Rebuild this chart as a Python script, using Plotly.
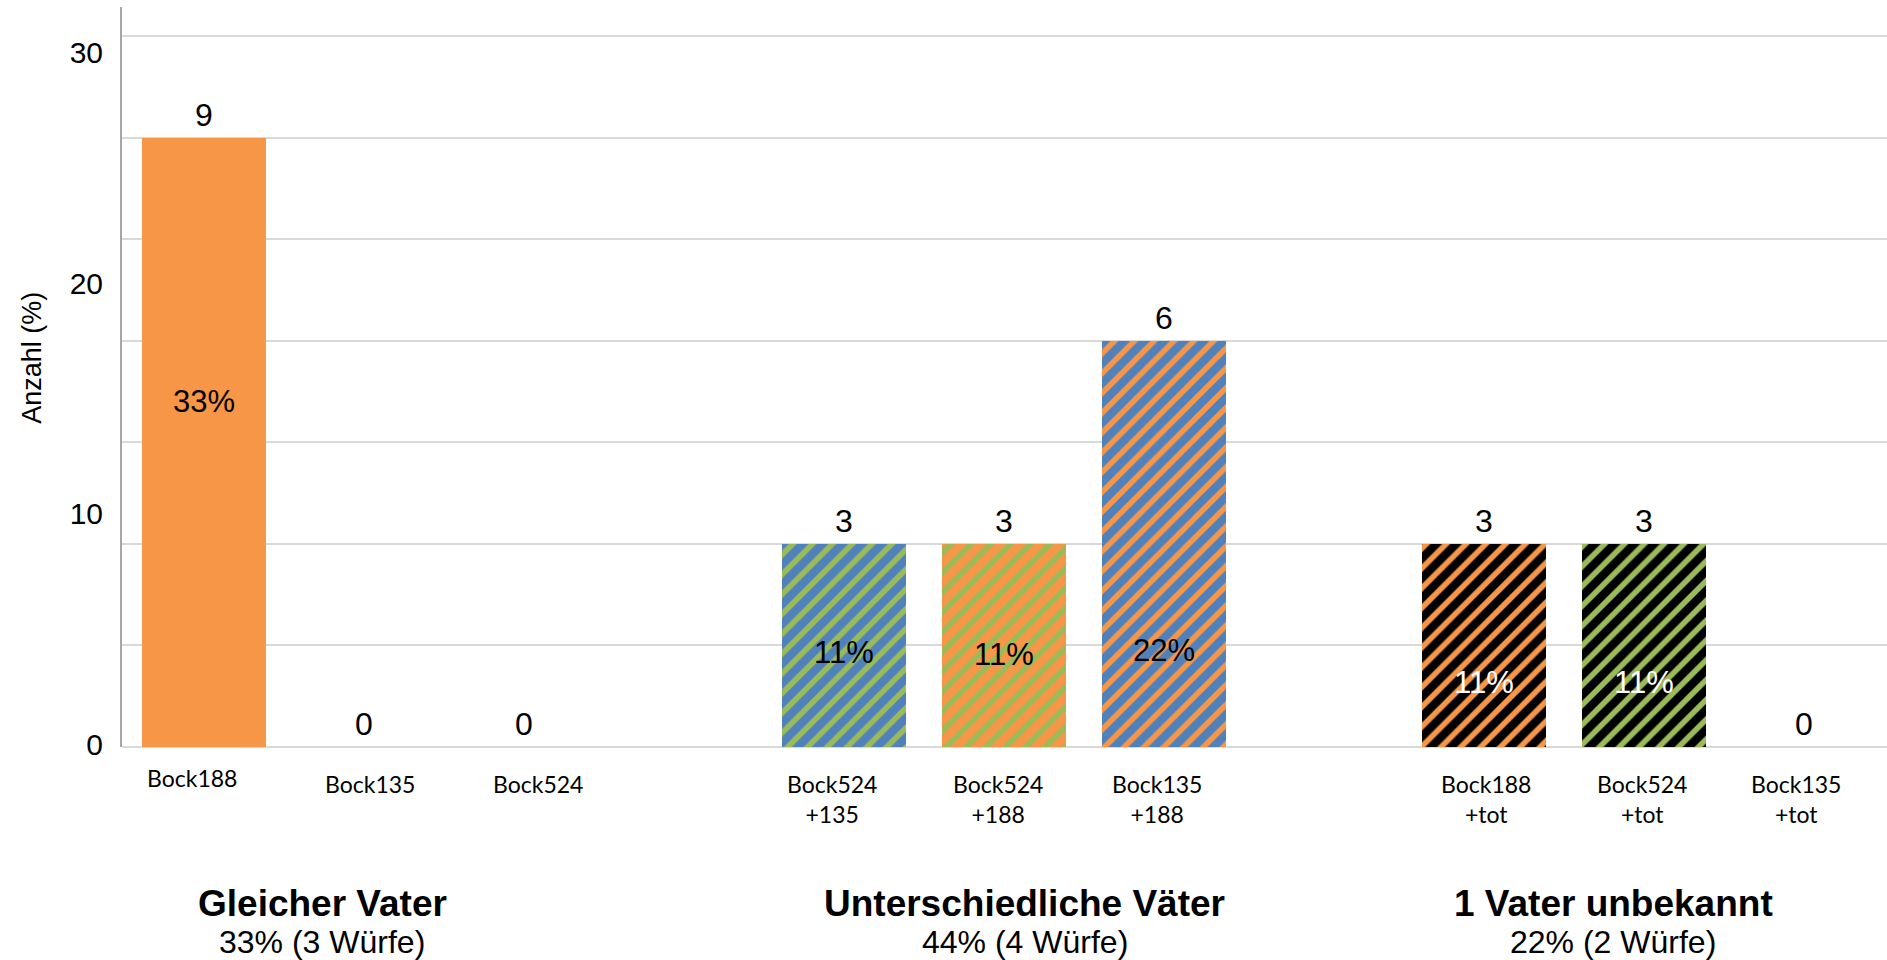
import plotly.graph_objects as go

# ---- data ----
categories = ["Bock188", "Bock135", "Bock524",
              "Bock524<br>+135", "Bock524<br>+188", "Bock135<br>+188",
              "Bock188<br>+tot", "Bock524<br>+tot", "Bock135<br>+tot"]
group_of = [0, 0, 0, 1, 1, 1, 2, 2, 2]
counts = [9, 0, 0, 3, 3, 6, 3, 3, 0]
percent_labels = ["33%", "", "", "11%", "11%", "22%", "11%", "11%", ""]

group_titles = ["Gleicher Vater", "Unterschiedliche Väter", "1 Vater unbekannt"]
group_subtitles = ["33% (3 Würfe)", "44% (4 Würfe)", "22% (2 Würfe)"]

y_tick_vals = [0, 10, 20, 30]

# ---- styles ----
ORANGE, BLUE, GREEN, BLACK = "#F79646", "#4F81BD", "#9BBB59", "#000000"
bg_colors = [ORANGE, BLUE, GREEN, BLUE, ORANGE, BLUE, BLACK, BLACK, BLACK]
stripe_colors = [ORANGE, BLUE, GREEN, GREEN, GREEN, ORANGE, ORANGE, GREEN, BLUE]
pattern_shapes = ["", "", "", "/", "/", "/", "/", "/", "/"]
inside_label_y = [5.11, None, None, 1.40, 1.36, 1.43, 0.96, 0.96, None]
inside_label_color = ["black", None, None, "black", "black", "black", "white", "white", None]
group_label_x = [0.74, 5.13, 8.81]
# small horizontal / vertical offsets of the category labels (as in the original)
label_dx = [-0.07, 0.04, 0.09, -0.07, -0.035, -0.04, 0.015, -0.01, -0.05]
label_top_px = [762, 768, 768, 768, 768, 768, 768, 768, 768]

# slot positions: 3 bars per group with one empty slot between groups
slots = [group_of[i] * 4 + (i % 3) for i in range(len(categories))]

fig = go.Figure()
for i, s in enumerate(slots):
    marker = dict(color=bg_colors[i], line=dict(width=0))
    if pattern_shapes[i]:
        marker["pattern"] = dict(shape=pattern_shapes[i], fgcolor=stripe_colors[i],
                                 bgcolor=bg_colors[i], size=14, solidity=0.4,
                                 fgopacity=1, fillmode="replace")
    fig.add_trace(go.Bar(x=[s], y=[counts[i]], width=0.775, marker=marker,
                         hoverinfo="skip", showlegend=False, yaxis="y"))
# invisible trace for percent axis
fig.add_trace(go.Scatter(x=[slots[0]], y=[0], yaxis="y2", mode="markers",
                         marker=dict(opacity=0), showlegend=False,
                         hoverinfo="skip"))

PLOT_H = 960 - 7 - 213


def paper_y(px_from_top):
    return (960 - 213 - px_from_top) / PLOT_H


ann = []
for i, s in enumerate(slots):
    ann.append(dict(x=s, y=counts[i], xref="x", yref="y", text=str(counts[i]),
                    showarrow=False, yanchor="middle", yshift=23,
                    font=dict(family="Liberation Sans, Arial", size=32, color="black")))
    if percent_labels[i]:
        ann.append(dict(x=s, y=inside_label_y[i], xref="x", yref="y",
                        text=percent_labels[i], showarrow=False, yanchor="middle",
                        font=dict(family="Liberation Sans, Arial", size=31,
                                  color=inside_label_color[i])))
    ann.append(dict(x=s + label_dx[i], y=paper_y(label_top_px[i]), xref="x",
                    yref="paper", text=categories[i], showarrow=False,
                    xanchor="center", yanchor="top", align="center",
                    font=dict(family="Lato", size=23, color="black")))
for g in range(3):
    ann.append(dict(x=group_label_x[g], y=paper_y(903), xref="x", yref="paper",
                    text="<b>" + group_titles[g] + "</b>", showarrow=False,
                    xanchor="center", yanchor="middle",
                    font=dict(family="Liberation Sans, Arial", size=37, color="black")))
    ann.append(dict(x=group_label_x[g], y=paper_y(942), xref="x", yref="paper",
                    text=group_subtitles[g], showarrow=False,
                    xanchor="center", yanchor="middle",
                    font=dict(family="Liberation Sans, Arial", size=32, color="black")))
ann.append(dict(x=-0.051, y=5.75, xref="paper", yref="y", text="Anzahl (%)",
                textangle=-90, showarrow=False, xanchor="center", yanchor="middle",
                font=dict(family="Liberation Sans, Arial", size=27, color="black")))

fig.update_layout(
    width=1887, height=960,
    margin=dict(l=122, r=0, t=7, b=213, autoexpand=False),
    paper_bgcolor="white", plot_bgcolor="white",
    bargap=0, barmode="overlay",
    xaxis=dict(range=[-0.51, 10.52], showticklabels=False, showgrid=False,
               zeroline=False, showline=False, ticks="", automargin=False),
    yaxis=dict(range=[0, 10.93], dtick=1.5, tick0=0, showgrid=True,
               gridcolor="#d9d9d9", gridwidth=2, zeroline=True,
               zerolinecolor="#d9d9d9", zerolinewidth=2,
               showticklabels=False, ticks="", automargin=False,
               showline=True, linecolor="#a6a6a6", linewidth=2),
    yaxis2=dict(range=[-0.09, 31.95], overlaying="y", side="left", anchor="x",
                tickmode="array", tickvals=y_tick_vals,
                ticktext=[str(v) for v in y_tick_vals], automargin=False,
                showgrid=False, zeroline=False, showline=False, ticks="",
                ticklabelstandoff=18,
                tickfont=dict(family="Liberation Sans, Arial", size=30, color="black")),
    annotations=ann,
)

fig.write_html("out.html", config={"displayModeBar": False},
               post_script="document.body.style.margin='0px';")
